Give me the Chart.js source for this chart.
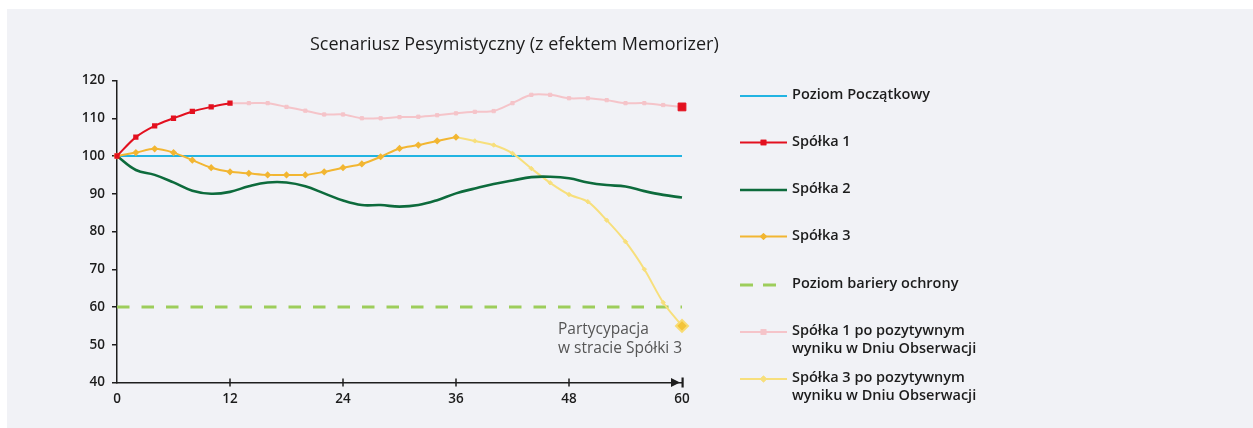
<!DOCTYPE html>
<html>
<head>
<meta charset="utf-8">
<script src="https://cdn.jsdelivr.net/npm/chart.js@4.4.1/dist/chart.umd.min.js"></script>
<style>
  html, body { margin: 0; padding: 0; background: #fff; }
  #panel { position: absolute; left: 7px; top: 9px; width: 1246px; height: 419px; background: #f1f2f6; }
  canvas { display: block; }
</style>
</head>
<body>
<div id="panel"><canvas id="chart" width="1246" height="419"></canvas></div>
<script>
/* ── Data ─────────────────────────────────────── */
const TITLE = 'Scenariusz Pesymistyczny (z efektem Memorizer)';
const NOTE  = ['Partycypacja', 'w stracie Spółki 3'];

const X_TICKS = [0, 12, 24, 36, 48, 60];
const Y_TICKS = [40, 50, 60, 70, 80, 90, 100, 110, 120];

const X_LEVEL = [0, 60];
const START_LEVEL   = [100, 100];
const BARRIER_LEVEL = [60, 60];

const X_S1 = [0, 2, 4, 6, 8, 10, 12];
const S1   = [100, 105, 108, 110, 111.8, 113, 114];

const X_S1_AFTER = [12, 14, 16, 18, 20, 22, 24, 26, 28, 30, 32, 34, 36, 38, 40, 42, 44, 46, 48, 50, 52, 54, 56, 58, 60];
const S1_AFTER   = [114, 114, 114, 113, 112, 111, 111, 110, 110, 110.3, 110.4, 110.8, 111.3, 111.7, 111.9, 114, 116.2, 116.2, 115.3, 115.3, 114.8, 114, 114, 113.5, 113];

const X_S2 = [0, 2, 4, 6, 8, 10, 12, 14, 16, 18, 20, 22, 24, 26, 28, 30, 32, 34, 36, 38, 40, 42, 44, 46, 48, 50, 52, 54, 56, 58, 60];
const S2   = [100, 96.3, 95, 93, 90.8, 90, 90.5, 92, 93, 93, 92, 90.1, 88.2, 87, 87, 86.6, 87, 88.3, 90.1, 91.4, 92.6, 93.5, 94.4, 94.5, 94.1, 93, 92.3, 91.9, 90.7, 89.7, 89];

const X_S3 = [0, 2, 4, 6, 8, 10, 12, 14, 16, 18, 20, 22, 24, 26, 28, 30, 32, 34, 36];
const S3   = [100, 100.9, 101.9, 100.9, 98.9, 96.9, 95.8, 95.4, 95, 95, 95, 95.8, 96.9, 97.9, 99.8, 102, 102.9, 104, 105];

const X_S3_AFTER = [36, 38, 40, 42, 44, 46, 48, 50, 52, 54, 56, 58, 60];
const S3_AFTER   = [105, 104, 102.9, 100.7, 96.7, 92.9, 89.8, 87.9, 83, 77.3, 70, 61.2, 55];

/* ── Colours ──────────────────────────────────── */
const C_CYAN    = '#22b4e2';
const C_RED     = '#e3101f';
const C_GREEN   = '#0d6b3c';
const C_YELLOW  = '#f2b632';
const C_BARRIER = '#9dcd5b';
const C_PINK    = '#f5c4c9';
const C_LYELLOW = '#f7df7c';
const C_AXIS    = '#1e1e1e';
const FONT      = '"Open Sans", "Noto Sans", sans-serif';

function pts(xs, ys) { return xs.map((x, i) => ({ x, y: ys[i] })); }
const lastBig = (small, big) => ctx => ctx.dataIndex === ctx.dataset.data.length - 1 ? big : small;

const datasets = [
  { label: 'Spółka 1', data: pts(X_S1, S1), borderColor: C_RED, backgroundColor: C_RED,
    borderWidth: 2, pointStyle: 'rect', pointRadius: 2.3, tension: 0.3 },
  { label: 'Spółka 3', data: pts(X_S3, S3), borderColor: C_YELLOW, backgroundColor: C_YELLOW,
    borderWidth: 2, pointStyle: 'rectRot', pointRadius: 2.2, tension: 0.3 },
  { label: 'Spółka 2', data: pts(X_S2, S2), borderColor: C_GREEN,
    borderWidth: 2.6, pointRadius: 0, tension: 0.4 },
  { label: 'Spółka 1 po pozytywnym\nwyniku w Dniu Obserwacji', data: pts(X_S1_AFTER, S1_AFTER),
    borderColor: C_PINK, borderWidth: 2, tension: 0.3, pointStyle: 'rect',
    pointRadius: lastBig(2.3, 5.5),
    pointBackgroundColor: lastBig(C_PINK, C_RED),
    pointBorderColor: lastBig(C_PINK, C_RED), pointBorderWidth: 1 },
  { label: 'Spółka 3 po pozytywnym\nwyniku w Dniu Obserwacji', data: pts(X_S3_AFTER, S3_AFTER),
    borderColor: C_LYELLOW, borderWidth: 2, tension: 0.3, pointStyle: 'rectRot',
    pointRadius: lastBig(2.2, 6),
    pointBackgroundColor: lastBig(C_LYELLOW, '#f3c43a'),
    pointBorderColor: lastBig(C_LYELLOW, '#f8dc74'), pointBorderWidth: lastBig(1, 2) },
  { label: 'Poziom Początkowy', data: pts(X_LEVEL, START_LEVEL), borderColor: C_CYAN,
    borderWidth: 2, pointRadius: 0 },
  { label: 'Poziom bariery ochrony', data: pts(X_LEVEL, BARRIER_LEVEL), borderColor: C_BARRIER,
    borderWidth: 3, borderDash: [12.5, 12], pointRadius: 0 },
];
datasets.forEach(d => { d.clip = false; d.fill = false; d.pointHoverRadius = 0; });

/* legend order and rows (y in canvas px) */
const LEGEND_ORDER = ['Poziom Początkowy', 'Spółka 1', 'Spółka 2', 'Spółka 3', 'Poziom bariery ochrony',
  'Spółka 1 po pozytywnym\nwyniku w Dniu Obserwacji', 'Spółka 3 po pozytywnym\nwyniku w Dniu Obserwacji'];
const LEGEND_Y = [87, 133.5, 181, 227.5, 276, 323, 370];

/* ── Custom drawing: title, axis decorations, note, legend ── */
const decorations = {
  id: 'decorations',
  afterDraw(chart) {
    const { ctx } = chart;
    const xs = chart.scales.x, ys = chart.scales.y;
    ctx.save();

    // title
    ctx.fillStyle = '#1c1c1c';
    ctx.font = '18px ' + FONT;
    ctx.textBaseline = 'middle';
    ctx.textAlign = 'left';
    ctx.fillText(TITLE, 303, 36);

    // x-axis crossing ticks + arrow
    const y0 = ys.bottom;
    ctx.strokeStyle = C_AXIS;
    ctx.fillStyle = C_AXIS;
    ctx.lineWidth = 1.5;
    X_TICKS.slice(1, -1).forEach(v => {
      const px = xs.getPixelForValue(v);
      ctx.beginPath(); ctx.moveTo(px, y0 - 4); ctx.lineTo(px, y0 + 4); ctx.stroke();
    });
    const xr = xs.right;
    ctx.beginPath();
    ctx.moveTo(xr - 11, y0 - 4.5); ctx.lineTo(xr - 2, y0); ctx.lineTo(xr - 11, y0 + 4.5);
    ctx.closePath(); ctx.fill();
    ctx.fillRect(xr - 0.5, y0 - 5, 2.2, 10);

    // annotation
    ctx.fillStyle = '#555';
    ctx.font = '15.5px ' + FONT;
    ctx.fillText(NOTE[0], 551, 321);
    ctx.fillText(NOTE[1], 551, 339.5);

    // legend
    ctx.font = '600 14.5px ' + FONT;
    LEGEND_ORDER.forEach((name, i) => {
      const ds = chart.data.datasets.find(d => d.label === name);
      const y = LEGEND_Y[i];
      const x1 = 733, x2 = 780;
      ctx.strokeStyle = ds.borderColor;
      ctx.lineWidth = ds.borderWidth;
      ctx.setLineDash(ds.borderDash ? [13, 10] : []);
      ctx.beginPath(); ctx.moveTo(x1, y); ctx.lineTo(ds.borderDash ? 769 : x2, y); ctx.stroke();
      ctx.setLineDash([]);
      if (ds.pointStyle) {
        Chart.helpers.drawPoint(ctx, {
          pointStyle: ds.pointStyle, radius: ds.pointStyle === 'rect' ? 2.6 : 2.2,
          borderWidth: 1, rotation: 0
        }, (x1 + x2) / 2, y);
        ctx.fillStyle = ds.borderColor;
        ctx.strokeStyle = ds.borderColor;
        ctx.fill(); ctx.stroke();
      }
      ctx.fillStyle = '#1c1c1c';
      name.split('\n').forEach((line, k) => ctx.fillText(line, 785, y - 1 + k * 17.7));
    });
    ctx.restore();
  }
};

new Chart(document.getElementById('chart'), {
  type: 'line',
  data: { datasets },
  options: {
    responsive: false,
    animation: false,
    events: [],
    layout: { padding: { left: 70, right: 571, top: 71.5, bottom: 10.5 } },
    plugins: { legend: { display: false }, tooltip: { enabled: false }, title: { display: false } },
    scales: {
      x: {
        type: 'linear', min: 0, max: 60,
        afterBuildTicks: s => { s.ticks = X_TICKS.map(v => ({ value: v })); },
        afterFit: s => { s.height = 35; },
        grid: { display: false },
        border: { display: true, color: C_AXIS, width: 1.5 },
        ticks: { color: '#1c1c1c', font: { family: FONT, size: 13.5, weight: '600' }, padding: 1, maxRotation: 0 },
      },
      y: {
        min: 40, max: 120,
        afterBuildTicks: s => { s.ticks = Y_TICKS.map(v => ({ value: v })); },
        afterFit: s => { s.width = 40; },
        grid: { display: true, drawOnChartArea: false, drawTicks: true, tickLength: 5, color: C_AXIS, lineWidth: 1.5 },
        border: { display: true, color: C_AXIS, width: 1.5 },
        ticks: { color: '#1c1c1c', font: { family: FONT, size: 13.5, weight: '600' }, padding: 7 },
      },
    },
  },
  plugins: [decorations],
});
</script>
</body>
</html>
